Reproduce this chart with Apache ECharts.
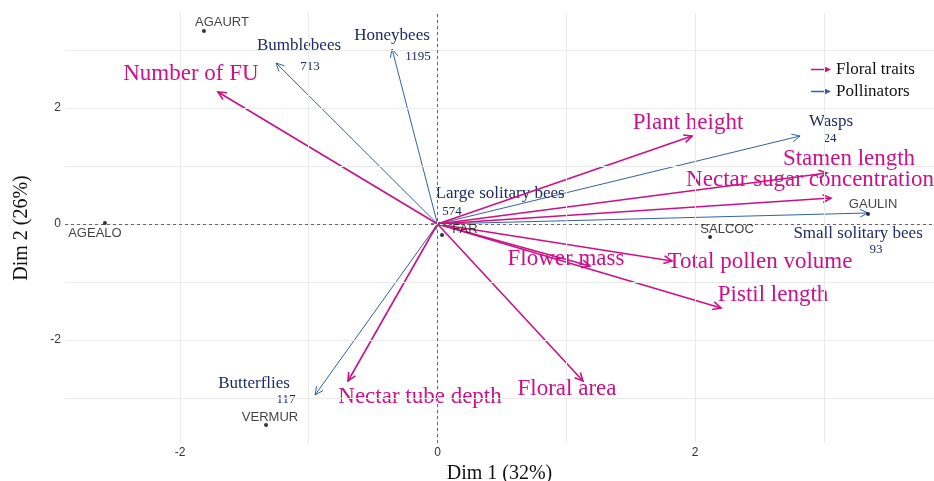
<!DOCTYPE html>
<html><head><meta charset="utf-8">
<script src="https://cdn.jsdelivr.net/npm/echarts@6/dist/echarts.min.js"></script>
<style>html,body{margin:0;padding:0;background:#fff;overflow:hidden}#c{width:934px;height:481px}</style>
</head><body><div id="c"></div>
<script>
// ---- data ----
const traitNames = ['Number of FU','Plant height','Stamen length','Nectar sugar concentration','Total pollen volume','Pistil length','Flower mass','Floral area','Nectar tube depth'];
const traitX = [-1.705, 1.977, 3.025, 3.056, 1.821, 2.202, 1.184, 1.130, -0.695];
const traitY = [2.276, 1.517, 0.879, 0.448, -0.638, -1.448, -0.724, -2.707, -2.707];

const pollNames = ['Honeybees','Bumblebees','Wasps','Large solitary bees','Small solitary bees','Butterflies'];
const pollCounts = ['1195','713','24','574','93','117'];
const pollX = [-0.353, -1.254, 2.816, 0.02, 3.344, -0.951];
const pollY = [3.017, 2.776, 1.517, 0.03, 0.19, -2.948];

const siteNames = ['AGAURT','AGEALO','VERMUR','SALCOC','GAULIN','FAR'];
const siteX = [-1.814, -2.583, -1.332, 2.117, 3.344, 0.035];
const siteY = [3.328, 0.017, -3.466, -0.224, 0.172, -0.19];

const xTicks = [-2, 0, 2];
const yTicks = [-2, 0, 2];
const gridX = [-2, -1, 0, 1, 2, 3];
const gridY = [-3, -2, -1, 0, 1, 2, 3];

// ---- layout (pixel offsets of labels from arrow tips / points) ----
const traitLabelOff = [[-27,-18],[-4,-13],[22,-14],[-21,-18],[88,1],[52,-13],[-24,-7],[-16,8],[72,16]];
const pollLabelOff = [[0,-13],[23,-17],[31,-14],[60,-29],[-10,21],[-61,-11]];
const pollCountOff = [[26,8],[34,4],[30,3],[12,-11],[8,37],[-29,5]];
const siteLabelOff = [[18,-9],[-10,10],[4,-8],[17,-8],[5,-10],[23,-6]];

const MAGENTA = '#CC1183';
const MAGENTA_TXT = '#CC1188';
const BLUE = '#3560AA';
const NAVY = '#1E2B66';
const SERIF = '"Liberation Serif", "Times New Roman", serif';
const SANS = '"Liberation Sans", Arial, sans-serif';

function arrowRender(color, width, names, offs, fontSize, txtColor, subs, subOffs) {
  return function (params, api) {
    const i = params.dataIndex;
    const s = api.coord([0, 0]);
    const e = api.coord([api.value(0), api.value(1)]);
    const ang = Math.atan2(e[1] - s[1], e[0] - s[0]);
    const L = 9, A = Math.PI / 7;
    const h1 = [e[0] - L * Math.cos(ang - A), e[1] - L * Math.sin(ang - A)];
    const h2 = [e[0] - L * Math.cos(ang + A), e[1] - L * Math.sin(ang + A)];
    const children = [
      { type: 'line', shape: { x1: s[0], y1: s[1], x2: e[0], y2: e[1] }, style: { stroke: color, lineWidth: width } },
      { type: 'polyline', shape: { points: [h1, e, h2] }, style: { stroke: color, lineWidth: width, fill: null } },
      { type: 'text', z2: 10, style: { text: names[i], x: e[0] + offs[i][0], y: e[1] + offs[i][1], fill: txtColor,
        font: fontSize + 'px ' + SERIF, align: 'center', verticalAlign: 'middle' } }
    ];
    if (subs) {
      children.push({ type: 'text', z2: 10, style: { text: subs[i], x: e[0] + subOffs[i][0], y: e[1] + subOffs[i][1], fill: txtColor,
        font: '13px ' + SERIF, align: 'center', verticalAlign: 'middle' } });
    }
    return { type: 'group', children: children };
  };
}

const chart = echarts.init(document.getElementById('c'), null, { renderer: 'canvas', width: 934, height: 481 });
const gridLineStyle = { color: '#ebebeb', width: 1, type: 'solid' };
const option = {
  animation: false,
  backgroundColor: '#fff',
  grid: { left: 65, right: 0, top: 13, bottom: 38, containLabel: false, outerBoundsMode: 'none' },
  xAxis: {
    type: 'value', min: -2.893, max: 3.856,
    axisLine: { show: false }, axisTick: { show: false }, splitLine: { show: false },
    axisLabel: { customValues: xTicks, color: '#333', fontFamily: SANS, fontSize: 12, margin: 4 },
    name: 'Dim 1 (32%)', nameLocation: 'middle', nameGap: 14,
    nameTextStyle: { fontFamily: SERIF, fontSize: 20, color: '#111' }
  },
  yAxis: {
    type: 'value', min: -3.776, max: 3.638,
    axisLine: { show: false }, axisTick: { show: false }, splitLine: { show: false },
    axisLabel: { customValues: yTicks, color: '#333', fontFamily: SANS, fontSize: 12, margin: 4 },
    name: 'Dim 2 (26%)', nameLocation: 'middle', nameGap: 33,
    nameTextStyle: { fontFamily: SERIF, fontSize: 20, color: '#111' }
  },
  legend: {
    data: [
      { name: 'Floral traits', icon: 'path://M0,3.3 L14,3.3 L14,4.7 L0,4.7 Z M13,0.8 L20,4 L13,7.2 Z' },
      { name: 'Pollinators', icon: 'path://M0,3.3 L14,3.3 L14,4.7 L0,4.7 Z M13,0.8 L20,4 L13,7.2 Z' }
    ],
    orient: 'vertical', left: 806, top: 56, itemWidth: 20, itemHeight: 7, itemGap: 5,
    textStyle: { fontFamily: SERIF, fontSize: 17, color: '#111' }
  },
  series: [
    {
      type: 'scatter', data: [], silent: true, z: 0,
      markLine: {
        silent: true, symbol: ['none', 'none'], label: { show: false }, animation: false,
        lineStyle: gridLineStyle,
        data: gridX.map(v => ({ xAxis: v })).concat(gridY.map(v => ({ yAxis: v })))
      }
    },
    {
      type: 'scatter', data: [], silent: true, z: 1,
      markLine: {
        silent: true, symbol: ['none', 'none'], label: { show: false }, animation: false,
        lineStyle: { color: '#666', width: 1, type: [3, 3] },
        data: [{ xAxis: 0 }, { yAxis: 0 }]
      }
    },
    {
      name: 'Pollinators', type: 'custom', z: 3, itemStyle: { color: BLUE },
      renderItem: arrowRender(BLUE, 1, pollNames, pollLabelOff, 17, NAVY, pollCounts, pollCountOff),
      data: pollX.map((x, i) => [x, pollY[i]])
    },
    {
      name: 'Floral traits', type: 'custom', z: 4, itemStyle: { color: MAGENTA },
      renderItem: arrowRender(MAGENTA, 1.6, traitNames, traitLabelOff, 23, MAGENTA_TXT),
      data: traitX.map((x, i) => [x, traitY[i]])
    },
    {
      type: 'scatter', z: 5, symbolSize: 4, itemStyle: { color: '#000' },
      data: siteX.map((x, i) => ({
        name: siteNames[i], value: [x, siteY[i]],
        label: { offset: siteLabelOff[i] }
      })),
      label: { show: true, position: 'inside', formatter: '{b}', color: '#111', fontFamily: SANS, fontSize: 13 }
    }
  ]
};
chart.setOption(option);
</script>
</body></html>
